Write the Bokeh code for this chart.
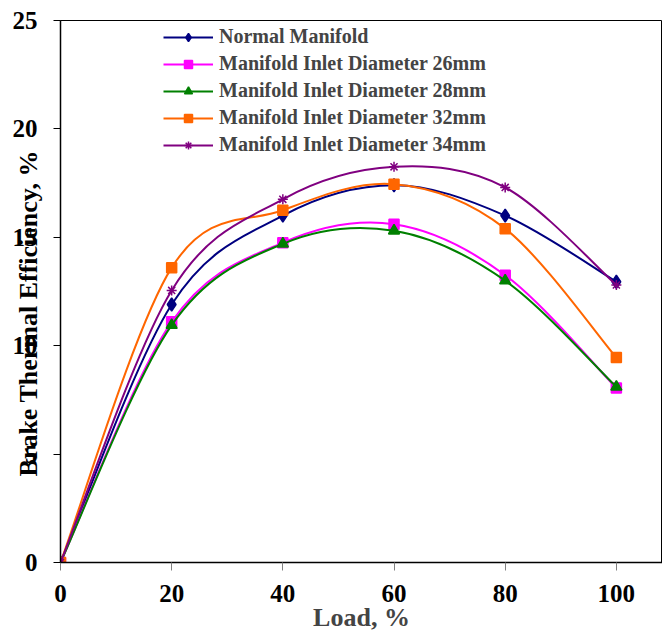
from bokeh.plotting import figure
from bokeh.models import Range1d, Legend, LegendItem, Title, FixedTicker
from bokeh.embed import file_html
from bokeh.resources import INLINE

load = [0, 20, 40, 60, 80, 100]
normal = [0, 11.9, 16.0, 17.4, 16.0, 12.95]
d26 = [0, 11.1, 14.75, 15.6, 13.25, 8.05]
d28 = [0, 10.95, 14.7, 15.3, 13.0, 8.1]
d32 = [0, 13.6, 16.25, 17.45, 15.4, 9.45]
d34 = [0, 12.55, 16.75, 18.25, 17.3, 12.8]

series = [
    ("Normal Manifold", normal, "#000080", "diamond", 13),
    ("Manifold Inlet Diameter 26mm", d26, "#FF00FF", "square", 10),
    ("Manifold Inlet Diameter 28mm", d28, "#008000", "triangle", 11),
    ("Manifold Inlet Diameter 32mm", d32, "#FF6600", "square", 10),
    ("Manifold Inlet Diameter 34mm", d34, "#800080", "asterisk", 10),
]

FONT = "Liberation Serif"

p = figure(width=662, height=634, output_backend="svg", toolbar_location=None,
           x_range=Range1d(0, 108.3), y_range=Range1d(0, 25),
           min_border_left=60, min_border_right=0, min_border_top=20, min_border_bottom=69)
p.grid.visible = False
p.outline_line_color = "black"
p.outline_line_width = 1
p.background_fill_color = "white"
p.border_fill_color = "white"

for ax in (p.xaxis[0], p.yaxis[0]):
    ax.major_label_text_font = FONT
    ax.major_label_text_font_style = "bold"
    ax.major_label_text_font_size = "25px"
    ax.major_label_text_color = "black"
    ax.axis_line_color = "black"
    ax.axis_line_width = 1.5
    ax.minor_tick_line_color = None
    ax.major_tick_in = 0

p.xaxis.ticker = FixedTicker(ticks=[0, 20, 40, 60, 80, 100])
p.yaxis.ticker = FixedTicker(ticks=[0, 5, 10, 15, 20, 25])
p.xaxis.major_tick_line_color = "#808080"
p.xaxis.major_tick_out = 8
p.yaxis.major_tick_out = 7
p.xaxis.major_label_standoff = 14
p.yaxis.major_label_standoff = 16
p.xaxis.axis_label = "Load, %"
p.xaxis.axis_label_text_font = FONT
p.xaxis.axis_label_text_font_style = "bold"
p.xaxis.axis_label_text_font_size = "26px"
p.xaxis.axis_label_standoff = -2

items = []
for name, vals, color, marker, size in series:
    n = len(load)
    x0, y0, x1, y1, cx0, cy0, cx1, cy1 = [], [], [], [], [], [], [], []
    for i in range(n - 1):
        xa, ya = load[i], vals[i]
        xb, yb = load[i + 1], vals[i + 1]
        xp, yp = (load[i - 1], vals[i - 1]) if i > 0 else (xa, ya)
        xn, yn = (load[i + 2], vals[i + 2]) if i + 2 < n else (xb, yb)
        x0.append(xa); y0.append(ya); x1.append(xb); y1.append(yb)
        cx0.append(xa + (xb - xp) / 6.0); cy0.append(ya + (yb - yp) / 6.0)
        cx1.append(xb - (xn - xa) / 6.0); cy1.append(yb - (yn - ya) / 6.0)
    p.bezier(x0=x0, y0=y0, x1=x1, y1=y1, cx0=cx0, cy0=cy0, cx1=cx1, cy1=cy1,
             line_color=color, line_width=2)
    lr = p.line(x=load[:1], y=vals[:1], line_color=color, line_width=2)
    sr = p.scatter(x=load, y=vals, marker=marker, size=size, fill_color=color,
                   line_color=color, line_width=1.5)
    items.append(LegendItem(label=name, renderers=[lr, sr]))

legend = Legend(items=items, location=(103, 406), border_line_alpha=0,
                background_fill_alpha=0, padding=0, margin=0,
                label_text_font=FONT, label_text_font_style="bold",
                label_text_font_size="20px", glyph_width=50, glyph_height=20,
                label_height=20, spacing=4, label_standoff=6)
p.add_layout(legend, "center")

ytitle = Title(text="Brake Thermal Efficiency, %", align="left", vertical_align="bottom",
               offset=86, standoff=-66, text_font=FONT, text_font_style="bold",
               text_font_size="26px", text_color="black")
p.add_layout(ytitle, "left")

open("out.html", "w").write(file_html(p, INLINE))
